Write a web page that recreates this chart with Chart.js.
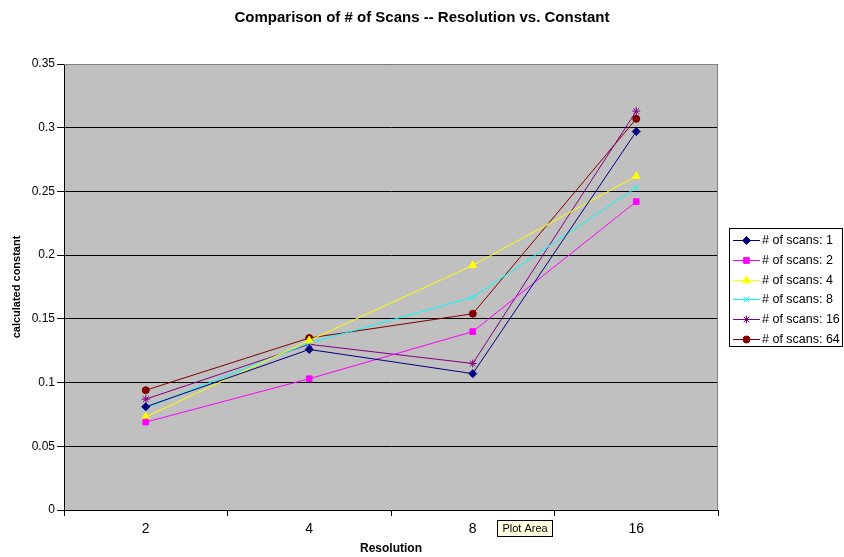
<!DOCTYPE html>
<html>
<head>
<meta charset="utf-8">
<script src="https://cdn.jsdelivr.net/npm/chart.js@4/dist/chart.umd.min.js"></script>
<style>
  html, body { margin: 0; padding: 0; background: #fff; }
  canvas { display: block; }
</style>
</head>
<body>
<canvas id="c" width="844" height="557"></canvas>
<script>
// Resolution categories and calculated constants per number of scans
const resolutions = ['2', '4', '8', '16'];
const scans1  = [0.081, 0.126, 0.107, 0.297];
const scans2  = [0.069, 0.103, 0.140, 0.242];
const scans4  = [0.073, 0.133, 0.192, 0.262];
const scans8  = [0.080, 0.131, 0.167, 0.253];
const scans16 = [0.087, 0.130, 0.115, 0.313];
const scans64 = [0.094, 0.135, 0.154, 0.307];
const seriesLabels = ['# of scans: 1', '# of scans: 2', '# of scans: 4', '# of scans: 8', '# of scans: 16', '# of scans: 64'];

const FONT = '"Liberation Sans", Arial, sans-serif';
const NARROW = '"Liberation Sans Narrow", "Liberation Sans", Arial, sans-serif';

function series(label, data, color, style, radius) {
  return {
    label, data,
    borderColor: color, backgroundColor: color,
    borderWidth: 1, pointStyle: style, pointRadius: radius,
    pointBorderWidth: 1, pointHoverRadius: radius, tension: 0
  };
}

const datasets = [
  series(seriesLabels[0], scans1,  '#000080', 'rectRot', 4),
  series(seriesLabels[1], scans2,  '#FF00FF', 'rect', 4),
  series(seriesLabels[2], scans4,  '#FFFF00', 'triangle', 4.5),
  series(seriesLabels[3], scans8,  '#00FFFF', 'crossRot', 4),
  series(seriesLabels[4], scans16, '#800080', 'star', 4),
  series(seriesLabels[5], scans64, '#800000', 'circle', 3.5)
];

const decor = {
  id: 'decor',
  beforeDraw(chart) {
    const { ctx, chartArea: a, width, height } = chart;
    ctx.save();
    ctx.fillStyle = '#fff';
    ctx.fillRect(0, 0, width, height);
    ctx.fillStyle = '#C0C0C0';
    ctx.fillRect(a.left, a.top, a.right - a.left, a.bottom - a.top);
    ctx.restore();
  },
  beforeDatasetsDraw(chart) {
    const { ctx, chartArea: a } = chart;
    ctx.save();
    ctx.strokeStyle = '#808080';
    ctx.lineWidth = 1;
    ctx.beginPath();
    ctx.moveTo(a.left, a.top + 0.5);
    ctx.lineTo(a.right - 0.5, a.top + 0.5);
    ctx.lineTo(a.right - 0.5, a.bottom);
    ctx.stroke();
    ctx.restore();
  },
  afterDraw(chart) {
    const { ctx, chartArea: a } = chart;
    ctx.save();
    ctx.fillStyle = '#000';
    ctx.textAlign = 'center';
    ctx.textBaseline = 'middle';
    // chart title
    ctx.font = 'bold 15px ' + FONT;
    ctx.fillText('Comparison of # of Scans -- Resolution vs. Constant', 422, 18);
    // axis titles
    ctx.font = 'bold 12px ' + FONT;
    ctx.fillText('Resolution', (a.left + a.right) / 2, 549);
    ctx.save();
    ctx.translate(17, (a.top + a.bottom) / 2);
    ctx.rotate(-Math.PI / 2);
    ctx.font = 'bold 11px ' + FONT;
    ctx.fillText('calculated constant', 0, 0);
    ctx.restore();

    // legend
    const lx = 729.5, ly = 228.5, lw = 113, lh = 118;
    ctx.fillStyle = '#fff';
    ctx.fillRect(lx, ly, lw, lh);
    ctx.strokeStyle = '#000';
    ctx.lineWidth = 1;
    ctx.strokeRect(lx, ly, lw, lh);
    ctx.font = '12.5px ' + FONT;
    ctx.textAlign = 'left';
    chart.data.datasets.forEach((ds, i) => {
      const y = Math.round(240 + i * 19.8) + 0.5;
      ctx.strokeStyle = ds.borderColor;
      ctx.fillStyle = ds.backgroundColor;
      ctx.lineWidth = 1;
      ctx.beginPath();
      ctx.moveTo(733, y);
      ctx.lineTo(760, y);
      ctx.stroke();
      Chart.helpers.drawPoint(ctx, {
        pointStyle: ds.pointStyle, radius: ds.pointRadius, borderWidth: 1, rotation: 0
      }, 746.5, y);
      ctx.fillStyle = '#000';
      ctx.fillText(ds.label, 762, y + 0.5);
    });

    // hover note over the plot area
    ctx.font = '11px ' + NARROW;
    const tx = 497.5, ty = 520.5, tw = 55, th = 16;
    ctx.fillStyle = '#FFFFE1';
    ctx.fillRect(tx, ty, tw, th);
    ctx.strokeStyle = '#000';
    ctx.strokeRect(tx, ty, tw, th);
    ctx.fillStyle = '#000';
    ctx.textAlign = 'center';
    ctx.fillText('Plot Area', tx + tw / 2, ty + th / 2 + 0.5);
    ctx.restore();
  }
};

new Chart(document.getElementById('c'), {
  type: 'line',
  data: { labels: resolutions, datasets },
  options: {
    responsive: false,
    animation: false,
    events: [],
    layout: { padding: { top: 64, right: 126, left: 0, bottom: 0 } },
    plugins: { legend: { display: false }, title: { display: false }, tooltip: { enabled: false } },
    scales: {
      x: {
        type: 'category',
        offset: true,
        grid: { display: true, drawOnChartArea: false, drawTicks: true, tickLength: 6, color: '#000', offset: true },
        border: { color: '#000', width: 1 },
        ticks: { color: '#000', font: { family: NARROW, size: 14 }, padding: 5, maxRotation: 0 },
        afterFit(s) { s.height = 47; }
      },
      y: {
        min: 0, max: 0.35,
        grid: { color: '#000', lineWidth: 1, tickLength: 7, drawTicks: true },
        border: { color: '#000', width: 1 },
        ticks: {
          stepSize: 0.05, color: '#000', padding: 2,
          font: { family: FONT, size: 12 },
          callback: v => String(Number(v.toFixed(2)))
        },
        afterFit(s) { s.width = 64; }
      }
    }
  },
  plugins: [decor]
});
</script>
</body>
</html>
